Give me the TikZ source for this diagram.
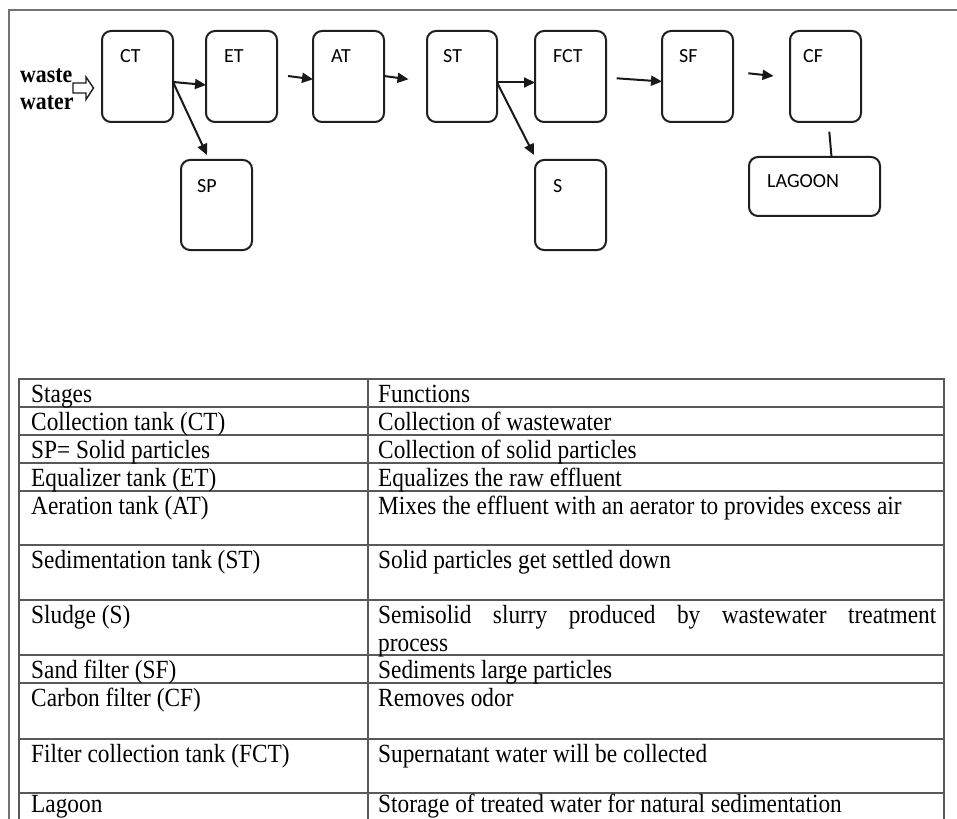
\documentclass[tikz,border=0pt]{standalone}
\usepackage{fontspec}
\setmainfont{Liberation Serif}
\newfontfamily\tablefont[FakeStretch=0.89]{Liberation Serif}
\newfontfamily\boxfont{Carlito}
\usetikzlibrary{arrows.meta}
\begin{document}
\begin{tikzpicture}[x=1pt,y=-1pt,
  tank/.style={draw=black!88, line width=2pt, rounded corners=9pt, inner sep=0pt, outer sep=0pt},
  tlabel/.style={anchor=base west, inner sep=0pt, font=\boxfont\fontsize{20}{24}\selectfont},
  arr/.style={line width=2pt, draw=black!90, -{Triangle[length=11pt,width=10pt]}},
  conn/.style={line width=2pt, draw=black!90},
  frame/.style={draw=black!55, line width=2pt},
  grid/.style={draw=black!65, line width=1.4pt},
  cell/.style={anchor=base west, inner sep=0pt, font=\tablefont\fontsize{26.2}{30}\selectfont},
  ww/.style={anchor=base west, inner sep=0pt, font=\tablefont\bfseries\fontsize{24.5}{28}\selectfont}
]
\useasboundingbox (0,0) rectangle (957,818);
\fill[white] (0,0) rectangle (957,818);
% outer frame (cropped)
\draw[frame] (8.5,830) -- (8.5,10.5) -- (970,10.5);

% tanks
\node[tank, minimum width=71pt, minimum height=91pt] (CT) at (137.5,76.5) {};
\node[tank, minimum width=71pt, minimum height=91pt] (ET) at (241.5,76.5) {};
\node[tank, minimum width=71pt, minimum height=91pt] (AT) at (348.5,76.5) {};
\node[tank, minimum width=70pt, minimum height=91pt] (ST) at (462,76.5) {};
\node[tank, minimum width=71pt, minimum height=91pt] (FCT) at (570.5,76.5) {};
\node[tank, minimum width=71pt, minimum height=91pt] (SF) at (697.5,76.5) {};
\node[tank, minimum width=71pt, minimum height=91pt] (CF) at (825.5,76.5) {};
\node[tank, minimum width=71pt, minimum height=90pt] (SP) at (216.5,205) {};
\node[tank, minimum width=71pt, minimum height=90pt] (S) at (570.5,205) {};
\node[tank, minimum width=131pt, minimum height=59pt] (LAG) at (814.5,186.5) {};

\node[tlabel] (lCT) at (120,63) {CT};
\node[tlabel] (lET) at (224,63) {ET};
\node[tlabel] (lAT) at (331,63) {AT};
\node[tlabel] (lST) at (443,63) {ST};
\node[tlabel] (lFCT) at (553,63) {FCT};
\node[tlabel] (lSF) at (679,63) {SF};
\node[tlabel] (lCF) at (803,63) {CF};
\node[tlabel] (lSP) at (197,193) {SP};
\node[tlabel] (lS) at (553,193) {S};
\node[tlabel] (lLAG) at (767,188) {LAGOON};

% waste water input
\node[ww] (w1) at (20,83) {waste};
\node[ww] (w2) at (20,110) {water};
\draw[line width=1.4pt, draw=black!90, fill=white] (73,83) -- (86,83) -- (86,77) -- (93.5,88) -- (86,99.5) -- (86,93) -- (73,93) -- cycle;

% connectors
\coordinate (spin) at (207,155);
\coordinate (sin) at (534,155);
\coordinate (atin) at (288,76);
\coordinate (stin) at (408.5,79.3);
\coordinate (sfin) at (616.7,78.3);
\coordinate (cfin) at (748.3,73.3);
\coordinate (cfend) at (773.5,76);
\coordinate (cfout) at (829.3,131.7);
\draw[arr] ([yshift=-5.5pt]CT.east) -- ([yshift=-8.5pt]ET.west);
\draw[arr] ([yshift=-5.5pt]CT.east) -- (spin);
\draw[arr] (atin) -- ([yshift=-2.8pt]AT.west);
\draw[arr] ([yshift=0.5pt]AT.east) -- (stin);
\draw[arr] ([yshift=-6pt]ST.east) -- ([yshift=-6pt]FCT.west);
\draw[arr] ([yshift=-6pt]ST.east) -- (sin);
\draw[arr] (sfin) -- ([yshift=-5pt]SF.west);
\draw[arr] (cfin) -- (cfend);
\draw[conn] (cfout) -- ([xshift=17pt]LAG.north);

% table grid
\draw[grid] (19,830) -- (19,379) -- (944,379) -- (944,830);
\draw[grid] (368,379) -- (368,830);
\foreach \yy in {407,435,463,491,545,600,655,683,739,793}
  \draw[grid] (19,\yy) -- (944,\yy);

% table text
\node[cell] (h1) at (31,402) {Stages};
\node[cell] (h2) at (378,402) {Functions};
\node[cell] (a1) at (31,430) {Collection tank (CT)};
\node[cell] (a2) at (378,430) {Collection of wastewater};
\node[cell] (b1) at (31,458) {SP= Solid particles};
\node[cell] (b2) at (378,458) {Collection of solid particles};
\node[cell] (c1) at (31,486) {Equalizer tank (ET)};
\node[cell] (c2) at (378,486) {Equalizes the raw effluent};
\node[cell] (d1) at (31,514) {Aeration tank (AT)};
\node[cell] (d2) at (378,514) {Mixes the effluent with an aerator to provides excess air};
\node[cell] (e1) at (31,568) {Sedimentation tank (ST)};
\node[cell] (e2) at (378,568) {Solid particles get settled down};
\node[cell] (f1) at (31,623) {Sludge (S)};
\node[cell] (f2) at (378,623) {\makebox[558pt][s]{Semisolid slurry produced by wastewater treatment}};
\node[cell] (f3) at (378,651) {process};
\node[cell] (g1) at (31,678) {Sand filter (SF)};
\node[cell] (g2) at (378,678) {Sediments large particles};
\node[cell] (i1) at (31,706) {Carbon filter (CF)};
\node[cell] (i2) at (378,706) {Removes odor};
\node[cell] (j1) at (31,762) {Filter collection tank (FCT)};
\node[cell] (j2) at (378,762) {Supernatant water will be collected};
\node[cell] (k1) at (31,812.5) {Lagoon};
\node[cell] (k2) at (378,812.5) {Storage of treated water for natural sedimentation};
\end{tikzpicture}
\end{document}
